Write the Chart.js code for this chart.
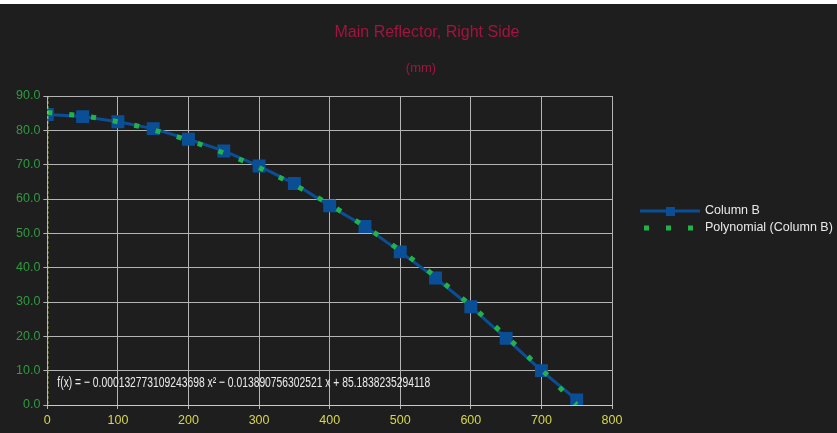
<!DOCTYPE html>
<html>
<head>
<meta charset="utf-8">
<script src="https://cdn.jsdelivr.net/npm/chart.js@4.4.1/dist/chart.umd.min.js"></script>
<style>
  html, body { margin: 0; padding: 0; background: #1e1e1e; }
  #strip { height: 4px; background: #ffffff; }
  #wrap { width: 837px; height: 429px; }
</style>
</head>
<body>
<div id="strip"></div>
<div id="wrap"><canvas id="reflectorChart" width="837" height="429"></canvas></div>
<script>
// dữ liệu
var xValues = [0, 50, 100, 150, 200, 250, 300, 350, 400, 450, 500, 550, 600, 650, 700, 750];
var columnB = [84.6, 84.0, 82.5, 80.5, 77.4, 74.0, 69.6, 64.5, 58.0, 52.0, 44.6, 37.0, 28.6, 19.4, 10.0, 1.5];
var trendValues = [85.2, 84.2, 82.5, 80.1, 77.1, 73.4, 69.1, 64.1, 58.4, 52.0, 45.0, 37.4, 29.0, 20.0, 10.4, 0.1];
var yTicks = [0, 10, 20, 30, 40, 50, 60, 70, 80, 90];
var xTicks = [0, 100, 200, 300, 400, 500, 600, 700, 800];
var legendLabels = ['Column B', 'Polynomial (Column B)'];
var titleText = 'Main Reflector, Right Side';
var subtitleText = '(mm)';
var equationText = 'f(x) = \u2212 0.000132773109243698 x\u00b2 \u2212 0.013890756302521 x + 85.1838235294118';

var blue = '#0a4f96';
var green = '#22b24a';
var titleColor = '#a3143f';

function toPoints(xs, ys) {
    var pts = [];
    for (var i = 0; i < xs.length; i++) {
        pts.push({ x: xs[i], y: ys[i] });
    }
    return pts;
}

// tiêu đề, chú thích + phương trình
var extrasPlugin = {
    id: 'extras',
    afterDraw: function (chart) {
        var ctx = chart.ctx;
        var area = chart.chartArea;
        ctx.save();

        // titles
        ctx.fillStyle = titleColor;
        ctx.textAlign = 'center';
        ctx.textBaseline = 'middle';
        ctx.font = '16px "Liberation Sans", sans-serif';
        ctx.fillText(titleText, 427, 29);
        ctx.font = '13px "Liberation Sans", sans-serif';
        ctx.fillText(subtitleText, 421, 64);

        // y-axis line (dashed)
        ctx.strokeStyle = '#b8d860';
        ctx.lineWidth = 1;
        ctx.setLineDash([3, 2]);
        ctx.beginPath();
        ctx.moveTo(area.left + 0.5, area.top);
        ctx.lineTo(area.left + 0.5, area.bottom);
        ctx.stroke();
        ctx.setLineDash([]);

        // equation (squeezed to the width seen in the picture)
        ctx.fillStyle = '#ececec';
        ctx.font = '15px "Liberation Sans", sans-serif';
        ctx.textAlign = 'left';
        var w = ctx.measureText(equationText).width;
        var sx = 373 / w;
        ctx.save();
        ctx.translate(area.left + 10, 379);
        ctx.scale(sx, 1);
        ctx.fillText(equationText, 0, 0);
        ctx.restore();

        // legend
        var lx = 640, ly1 = 207, ly2 = 224;
        ctx.strokeStyle = blue;
        ctx.lineWidth = 3;
        ctx.beginPath();
        ctx.moveTo(lx, ly1);
        ctx.lineTo(lx + 60, ly1);
        ctx.stroke();
        ctx.fillStyle = blue;
        ctx.fillRect(lx + 26, ly1 - 4, 9, 9);
        ctx.fillStyle = green;
        for (var k = 0; k < 3; k++) {
            ctx.fillRect(lx + 4 + k * 22, ly2 - 2.5, 5, 5);
        }
        ctx.fillStyle = '#e8e8e8';
        ctx.font = '12.5px "Liberation Sans", sans-serif';
        ctx.fillText(legendLabels[0], lx + 65, ly1);
        ctx.fillText(legendLabels[1], lx + 65, ly2);
        ctx.restore();
    }
};

var ctx = document.getElementById('reflectorChart').getContext('2d');
var myChart = new Chart(ctx, {
    type: 'line',
    data: {
        datasets: [
            {
                label: legendLabels[1],
                data: toPoints(xValues, trendValues),
                borderColor: green,
                borderWidth: 5,
                borderDash: [5, 17],
                borderCapStyle: 'butt',
                pointRadius: 0,
                tension: 0.4,
                cubicInterpolationMode: 'monotone',
                fill: false,
                order: 0
            },
            {
                label: legendLabels[0],
                data: toPoints(xValues, columnB),
                borderColor: blue,
                backgroundColor: blue,
                borderWidth: 3,
                pointStyle: 'rect',
                pointRadius: 7,
                pointHoverRadius: 7,
                tension: 0,
                fill: false,
                order: 1
            }
        ]
    },
    options: {
        responsive: false,
        animation: false,
        events: [],
        layout: {
            padding: { left: 13, right: 225, top: 92, bottom: 1 }
        },
        plugins: {
            legend: { display: false },
            tooltip: { enabled: false },
            title: { display: false }
        },
        scales: {
            x: {
                type: 'linear',
                min: 0,
                max: 800,
                afterBuildTicks: function (axis) {
                    axis.ticks = xTicks.map(function (v) { return { value: v }; });
                },
                ticks: {
                    color: '#d6d64a',
                    font: { family: '"Liberation Sans", sans-serif', size: 12.5 },
                    padding: 4,
                    maxRotation: 0
                },
                grid: {
                    color: '#b4b4b4',
                    tickColor: '#b4b4b4',
                    tickLength: 4,
                    lineWidth: 1
                },
                border: { color: '#d8d860', width: 1 }
            },
            y: {
                min: 0,
                max: 90,
                afterBuildTicks: function (axis) {
                    axis.ticks = yTicks.map(function (v) { return { value: v }; });
                },
                ticks: {
                    color: '#2e9b40',
                    font: { family: '"Liberation Sans", sans-serif', size: 12.5 },
                    padding: 3,
                    callback: function (v) { return Number(v).toFixed(1); }
                },
                grid: {
                    color: '#b4b4b4',
                    tickColor: '#b4b4b4',
                    tickLength: 4,
                    lineWidth: 1
                },
                border: { display: false }
            }
        }
    },
    plugins: [extrasPlugin]
});
</script>
</body>
</html>
